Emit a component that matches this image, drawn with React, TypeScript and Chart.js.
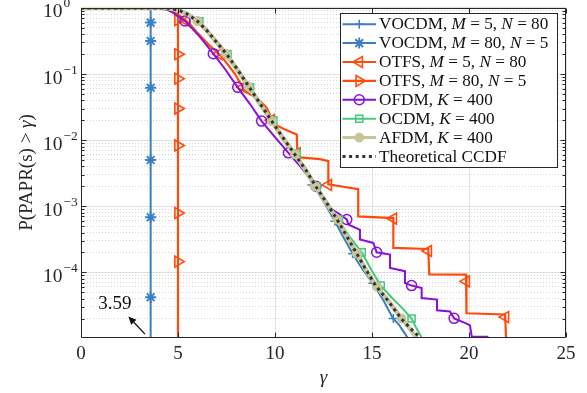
import { useEffect, useRef } from 'react';
import { Chart, registerables } from 'chart.js';

Chart.register(...registerables);

const SERIF = '"Liberation Serif", "Times New Roman", Times, serif';
const AXIS_COLOR = '#262626';

// ---------- axes ----------
const xMin = 0;
const xMax = 25;
const xStep = 5;
const yMin = 1.05e-5;
const yMax = 1;
const yDecadeExps = [0, -1, -2, -3, -4];
const yDecadeLabels = ['0', '\u22121', '\u22122', '\u22123', '\u22124'];

// ---------- texts ----------
const legendTexts = [
  'VOCDM, $M$ = 5, $N$ = 80',
  'VOCDM, $M$ = 80, $N$ = 5',
  'OTFS, $M$ = 5, $N$ = 80',
  'OTFS, $M$ = 80, $N$ = 5',
  'OFDM, $K$ = 400',
  'OCDM, $K$ = 400',
  'AFDM, $K$ = 400',
  'Theoretical CCDF',
];
const xTitle = '\u03b3';
const yTitle = 'P(PAPR(s) > $\u03b3$)';
const annotationText = '3.59';
const annotationAt = [1.75, 3.3e-5];
const arrowFrom = [3.3, 1.16e-5];
const arrowTo = [2.44, 2.15e-5];

// ---------- data ----------
// VOCDM, M = 5, N = 80
const vocdmA_gamma = [0, 3.0, 4.0, 4.5, 5.0, 5.5, 6.0, 6.5, 7.0, 7.5, 8.0, 8.6, 9.2, 9.8, 10.4, 11.0, 11.6, 12.1, 12.5, 13.09, 13.5, 14.02, 14.5, 15.05, 15.6, 16.08, 16.4, 16.6, 16.86];
const vocdmA_p = [1, 1, 0.999, 0.987, 0.93, 0.8, 0.63, 0.45, 0.3, 0.198, 0.124, 0.067, 0.036, 0.0196, 0.0108, 0.0061, 0.0033, 0.0018, 0.00118, 0.00059, 0.00035, 0.000187, 0.000112, 0.000068, 0.000037, 0.00002, 0.000016, 0.000013, 0.00001];
const vocdmA_markGamma = [6.0, 7.47, 8.6, 9.8, 11.0, 11.9, 13.09, 14.0, 15.05, 16.1];
const vocdmA_markP = [0.63, 0.2, 0.067, 0.0196, 0.0061, 0.0021, 0.00059, 0.00019, 0.000068, 0.00002];

// VOCDM, M = 80, N = 5
const vocdmB_gamma = [0, 3.59, 3.59];
const vocdmB_p = [1, 1, 1e-6];
const vocdmB_markGamma = [3.59, 3.59, 3.59, 3.59, 3.59, 3.59];
const vocdmB_markP = [0.6, 0.316, 0.062, 0.005, 0.00068, 0.000042];

// OTFS, M = 5, N = 80
const otfsA_gamma = [0, 4.07, 4.59, 5.1, 5.62, 5.96, 6.65, 7.27, 7.94, 8.45, 9.06, 9.57, 9.74, 9.85, 10.46, 11.12, 11.16, 12.32, 12.75, 12.75, 14.29, 14.29, 16.1, 16.1, 17.9, 17.95, 19.85, 19.87, 21.86, 21.91];
const otfsA_p = [1, 1, 0.93, 0.757, 0.572, 0.433, 0.266, 0.181, 0.1, 0.055, 0.0433, 0.031, 0.024, 0.0181, 0.0147, 0.0122, 0.00552, 0.00514, 0.00479, 0.00214, 0.00181, 0.0007, 0.00066, 0.000234, 0.000225, 0.000093, 0.000092, 0.000024, 0.000023, 0.00001];
const otfsA_markGamma = [5.45, 7.1, 8.35, 9.8, 11.14, 12.75, 16.1, 17.9, 19.86, 21.88];
const otfsA_markP = [0.63, 0.2, 0.063, 0.02, 0.0063, 0.0021, 0.00065, 0.00021, 0.000073, 0.000021];

// OTFS, M = 80, N = 5
const otfsB_gamma = [0, 5.0, 5.0];
const otfsB_p = [1, 1, 1e-6];
const otfsB_markGamma = [5.0, 5.0, 5.0, 5.0, 5.0, 5.0, 5.0];
const otfsB_markP = [0.65, 0.199, 0.085, 0.03, 0.0083, 0.00079, 0.000145];

// OFDM, K = 400
const ofdm_gamma = [0, 3.81, 4.07, 4.48, 4.74, 5.36, 6.13, 6.82, 7.42, 8.08, 8.71, 9.31, 10.0, 10.69, 11.29, 12.11, 12.42, 12.84, 13.35, 13.7, 13.78, 14.38, 14.38, 15.07, 15.24, 15.93, 15.93, 16.7, 16.7, 17.04, 17.56, 17.56, 18.35, 18.35, 19.02, 19.23, 19.85, 20.05, 20.14, 21.0];
const ofdm_p = [1, 1, 0.983, 0.917, 0.85, 0.635, 0.364, 0.203, 0.119, 0.0629, 0.0351, 0.0194, 0.0111, 0.00642, 0.00404, 0.00201, 0.00132, 0.00094, 0.00075, 0.00063, 0.00053, 0.00044, 0.000313, 0.000278, 0.000201, 0.000185, 0.000116, 0.000104, 0.000069, 0.000063, 0.000058, 0.0000408, 0.0000386, 0.0000266, 0.0000256, 0.0000201, 0.0000169, 0.0000157, 0.0000107, 0.0000106];
const ofdm_markGamma = [5.36, 6.82, 8.08, 9.31, 10.69, 12.11, 13.7, 15.24, 17.04, 19.23];
const ofdm_markP = [0.635, 0.203, 0.0629, 0.0194, 0.00642, 0.00201, 0.00063, 0.000201, 0.000063, 0.0000201];

// OCDM, K = 400
const ocdm_gamma = [0, 3.0, 4.0, 4.5, 5.0, 5.5, 6.0, 6.5, 7.0, 7.5, 8.0, 8.6, 9.2, 9.8, 10.4, 11.0, 11.6, 12.1, 12.6, 13.2, 13.8, 14.47, 15.0, 15.45, 16.0, 16.5, 17.04, 17.25, 17.55];
const ocdm_p = [1, 1, 0.999, 0.988, 0.935, 0.81, 0.645, 0.465, 0.315, 0.207, 0.131, 0.072, 0.039, 0.021, 0.0116, 0.0066, 0.0037, 0.00215, 0.00127, 0.00067, 0.00036, 0.0002, 0.000105, 0.000063, 0.000042, 0.00003, 0.00002, 0.000015, 0.0000105];
const ocdm_markGamma = [6.1, 7.55, 8.72, 9.92, 11.12, 12.15, 13.3, 14.47, 15.45, 17.04];
const ocdm_markP = [0.63, 0.2, 0.063, 0.02, 0.0063, 0.002, 0.00063, 0.0002, 0.000063, 0.00002];

// AFDM, K = 400
const afdm_gamma = [0, 3.0, 4.0, 4.5, 5.0, 5.5, 6.0, 6.5, 7.0, 7.46, 8.0, 8.63, 9.2, 9.83, 10.4, 11.03, 11.6, 12.06, 12.6, 13.21, 13.7, 14.21, 14.7, 15.24, 15.9, 16.53, 17.0, 17.3];
const afdm_p = [1, 1, 0.999, 0.987, 0.93, 0.8, 0.635, 0.45, 0.3, 0.203, 0.122, 0.0646, 0.036, 0.0194, 0.0108, 0.0061, 0.0034, 0.002, 0.00117, 0.00063, 0.00035, 0.000195, 0.000107, 0.000061, 0.000035, 0.00002, 0.0000135, 0.0000102];
const afdm_markGamma = [6.0, 7.46, 8.63, 9.83, 11.03, 12.06, 13.21, 14.21, 15.24, 16.53];
const afdm_markP = [0.635, 0.203, 0.0646, 0.0194, 0.0061, 0.002, 0.00063, 0.000195, 0.000061, 0.00002];

// Theoretical CCDF
const theory_gamma = [0, 3.0, 4.0, 4.5, 5.0, 5.5, 6.0, 6.5, 7.0, 7.5, 8.0, 8.6, 9.2, 9.8, 10.4, 11.0, 11.6, 12.1, 12.6, 13.2, 13.7, 14.2, 14.7, 15.2, 15.8, 16.5, 17.0, 17.5];
const theory_p = [1, 1, 0.999, 0.988, 0.93, 0.8, 0.63, 0.45, 0.3, 0.2, 0.125, 0.068, 0.037, 0.02, 0.011, 0.0062, 0.0035, 0.002, 0.0012, 0.00063, 0.00035, 0.000195, 0.000108, 0.000062, 0.000038, 0.00002, 0.000014, 0.0000102];

// ---------- styles ----------
type Style = {
  color: string;
  width: number;
  dash: number[];
  marker: string | null;
  radius: number;
  rotation: number;
  filled: boolean;
  markerWidth: number;
};

const styles: Style[] = [
  { color: '#3a7fc1', width: 2, dash: [], marker: 'cross', radius: 4.5, rotation: 0, filled: false, markerWidth: 1.5 },
  { color: '#3a7fc1', width: 2, dash: [], marker: 'star', radius: 5.5, rotation: 0, filled: false, markerWidth: 1.9 },
  { color: '#ff4a0a', width: 2.2, dash: [], marker: 'triangle', radius: 6.3, rotation: -90, filled: false, markerWidth: 1.6 },
  { color: '#ff4a0a', width: 2.2, dash: [], marker: 'triangle', radius: 6.3, rotation: 90, filled: false, markerWidth: 1.6 },
  { color: '#8a10d6', width: 2, dash: [], marker: 'circle', radius: 5, rotation: 0, filled: false, markerWidth: 1.5 },
  { color: '#45c97b', width: 2, dash: [], marker: 'rect', radius: 5, rotation: 0, filled: false, markerWidth: 1.5 },
  { color: '#c9c59b', width: 4.5, dash: [], marker: 'circle', radius: 4.5, rotation: 0, filled: true, markerWidth: 1 },
  { color: '#333333', width: 3, dash: [3, 3.6], marker: null, radius: 0, rotation: 0, filled: false, markerWidth: 0 },
];

const seriesLines = [
  [vocdmA_gamma, vocdmA_p],
  [vocdmB_gamma, vocdmB_p],
  [otfsA_gamma, otfsA_p],
  [otfsB_gamma, otfsB_p],
  [ofdm_gamma, ofdm_p],
  [ocdm_gamma, ocdm_p],
  [afdm_gamma, afdm_p],
  [theory_gamma, theory_p],
];
const seriesMarks = [
  [vocdmA_markGamma, vocdmA_markP],
  [vocdmB_markGamma, vocdmB_markP],
  [otfsA_markGamma, otfsA_markP],
  [otfsB_markGamma, otfsB_markP],
  [ofdm_markGamma, ofdm_markP],
  [ocdm_markGamma, ocdm_markP],
  [afdm_markGamma, afdm_markP],
  null,
];

function pts(xs: number[], ys: number[]) {
  return xs.map((x, i) => ({ x, y: ys[i] }));
}

function buildDatasets() {
  const ds: any[] = [];
  const n = styles.length;
  for (let i = 0; i < n; i++) {
    const s = styles[i];
    const [gx, gp] = seriesLines[i];
    const baseOrder = (n - 1 - i) * 2;
    ds.push({
      label: legendTexts[i].replace(/\$/g, ''),
      data: pts(gx, gp),
      borderColor: s.color,
      backgroundColor: s.color,
      borderWidth: s.width,
      borderDash: s.dash,
      pointRadius: 0,
      pointHoverRadius: 0,
      tension: 0,
      fill: false,
      order: baseOrder + 1,
    });
    const m = seriesMarks[i];
    if (m && s.marker) {
      ds.push({
        label: legendTexts[i].replace(/\$/g, '') + ' markers',
        data: pts(m[0], m[1]),
        showLine: false,
        pointStyle: s.marker,
        pointRadius: s.radius,
        pointHoverRadius: s.radius,
        pointRotation: s.rotation,
        pointBorderColor: s.color,
        pointBackgroundColor: s.filled ? s.color : 'rgba(0,0,0,0)',
        pointBorderWidth: s.markerWidth,
        borderColor: s.color,
        backgroundColor: s.filled ? s.color : 'rgba(0,0,0,0)',
        order: baseOrder,
      });
    }
  }
  return ds;
}

function buildLogTicks() {
  const t: { value: number; major: boolean }[] = [];
  for (let e = -5; e <= 0; e++) {
    for (let m = 1; m <= 9; m++) {
      const v = m * Math.pow(10, e);
      if (v >= yMin * 0.999999 && v <= yMax * 1.000001) t.push({ value: v, major: m === 1 });
    }
  }
  return t;
}

function fontStr(italic: boolean, size: number) {
  return `${italic ? 'italic ' : ''}${size}px ${SERIF}`;
}

function richWidth(ctx: CanvasRenderingContext2D, text: string, size: number) {
  const parts = text.split('$');
  let w = 0;
  parts.forEach((p, i) => {
    ctx.font = fontStr(i % 2 === 1, size);
    w += ctx.measureText(p).width;
  });
  return w;
}

function drawRich(ctx: CanvasRenderingContext2D, text: string, x: number, y: number, size: number) {
  const parts = text.split('$');
  let cx = x;
  parts.forEach((p, i) => {
    ctx.font = fontStr(i % 2 === 1, size);
    ctx.fillText(p, cx, y);
    cx += ctx.measureText(p).width;
  });
}

function drawMarker(ctx: CanvasRenderingContext2D, s: Style, x: number, y: number) {
  const r = s.radius;
  ctx.save();
  ctx.strokeStyle = s.color;
  ctx.fillStyle = s.color;
  ctx.lineWidth = s.markerWidth;
  ctx.setLineDash([]);
  ctx.beginPath();
  if (s.marker === 'circle') {
    ctx.arc(x, y, r, 0, Math.PI * 2);
  } else if (s.marker === 'rect') {
    const h = Math.SQRT1_2 * r;
    ctx.rect(x - h, y - h, 2 * h, 2 * h);
  } else if (s.marker === 'cross' || s.marker === 'star') {
    ctx.moveTo(x - r, y); ctx.lineTo(x + r, y);
    ctx.moveTo(x, y - r); ctx.lineTo(x, y + r);
    if (s.marker === 'star') {
      const d = r * Math.SQRT1_2;
      ctx.moveTo(x - d, y - d); ctx.lineTo(x + d, y + d);
      ctx.moveTo(x - d, y + d); ctx.lineTo(x + d, y - d);
    }
  } else if (s.marker === 'triangle') {
    let rad = (s.rotation * Math.PI) / 180;
    ctx.moveTo(x + Math.sin(rad) * r, y - Math.cos(rad) * r);
    rad += (2 * Math.PI) / 3;
    ctx.lineTo(x + Math.sin(rad) * r, y - Math.cos(rad) * r);
    rad += (2 * Math.PI) / 3;
    ctx.lineTo(x + Math.sin(rad) * r, y - Math.cos(rad) * r);
    ctx.closePath();
  }
  if (s.filled) ctx.fill();
  ctx.stroke();
  ctx.restore();
}

const framePlugin = {
  id: 'frame',
  afterDraw(chart: any) {
    const { ctx, chartArea: a, scales } = chart;
    const xs = scales.x;
    const ys = scales.y;
    const L = Math.round(a.left) + 0.5;
    const R = Math.round(a.right) - 0.5;
    const T = Math.round(a.top) + 0.5;
    const B = Math.round(a.bottom) + 0.5;
    ctx.save();

    // annotation
    ctx.fillStyle = '#111';
    ctx.strokeStyle = '#111';
    ctx.font = fontStr(false, 19);
    ctx.textAlign = 'center';
    ctx.textBaseline = 'middle';
    ctx.fillText(annotationText, xs.getPixelForValue(annotationAt[0]), ys.getPixelForValue(annotationAt[1]));
    const ax0 = xs.getPixelForValue(arrowFrom[0]);
    const ay0 = ys.getPixelForValue(arrowFrom[1]);
    const ax1 = xs.getPixelForValue(arrowTo[0]);
    const ay1 = ys.getPixelForValue(arrowTo[1]);
    const ang = Math.atan2(ay1 - ay0, ax1 - ax0);
    const hl = 8, hw = 3.6;
    const bx = ax1 - Math.cos(ang) * hl;
    const by = ay1 - Math.sin(ang) * hl;
    ctx.lineWidth = 1.3;
    ctx.beginPath();
    ctx.moveTo(ax0, ay0);
    ctx.lineTo(bx, by);
    ctx.stroke();
    ctx.beginPath();
    ctx.moveTo(ax1, ay1);
    ctx.lineTo(bx + Math.sin(ang) * hw, by - Math.cos(ang) * hw);
    ctx.lineTo(bx - Math.sin(ang) * hw, by + Math.cos(ang) * hw);
    ctx.closePath();
    ctx.fill();

    // frame
    ctx.strokeStyle = AXIS_COLOR;
    ctx.lineWidth = 1;
    ctx.beginPath();
    ctx.rect(L, T, R - L, B - T);
    ctx.stroke();

    // inward ticks
    ctx.beginPath();
    for (let v = xMin; v <= xMax + 1e-9; v += xStep) {
      const px = Math.round(xs.getPixelForValue(v)) + 0.5;
      ctx.moveTo(px, B); ctx.lineTo(px, B - 5);
      ctx.moveTo(px, T); ctx.lineTo(px, T + 5);
    }
    for (const t of ys.ticks) {
      const py = Math.round(ys.getPixelForValue(t.value)) + 0.5;
      const len = t.major ? 5 : 3;
      ctx.moveTo(L, py); ctx.lineTo(L + len, py);
      ctx.moveTo(R, py); ctx.lineTo(R - len, py);
    }
    ctx.stroke();

    // y tick labels (10^k)
    ctx.fillStyle = AXIS_COLOR;
    yDecadeExps.forEach((e, i) => {
      const py = ys.getPixelForValue(Math.pow(10, e));
      ctx.font = fontStr(false, 19.5);
      ctx.textAlign = 'right';
      ctx.textBaseline = 'alphabetic';
      ctx.fillText('10', a.left - 18.5, py + 9.5);
      ctx.font = fontStr(false, 13.5);
      ctx.textAlign = 'left';
      ctx.fillText(yDecadeLabels[i], a.left - 17.5, py - 0.5);
    });

    // y title
    ctx.save();
    ctx.translate(27, (a.top + a.bottom) / 2);
    ctx.rotate(-Math.PI / 2);
    ctx.textAlign = 'left';
    ctx.textBaseline = 'middle';
    const tw = richWidth(ctx, yTitle, 19);
    drawRich(ctx, yTitle, -tw / 2, 0, 19);
    ctx.restore();

    // legend
    const lx = a.right - 226.5;
    const ly = a.top + 5.5;
    const lw = 217;
    const lh = 154;
    ctx.fillStyle = '#ffffff';
    ctx.fillRect(Math.round(lx) + 0.5, Math.round(ly) + 0.5, lw, lh);
    ctx.strokeStyle = AXIS_COLOR;
    ctx.lineWidth = 1;
    ctx.strokeRect(Math.round(lx) + 0.5, Math.round(ly) + 0.5, lw, lh);
    legendTexts.forEach((txt, i) => {
      const s = styles[i];
      const ry = ly + 10.8 + i * 18.9;
      const x0 = lx + 3;
      const x1 = lx + 36.5;
      ctx.save();
      ctx.strokeStyle = s.color;
      ctx.lineWidth = s.width > 3 && s.dash.length === 0 ? 3 : s.width;
      ctx.setLineDash(s.dash);
      ctx.beginPath();
      ctx.moveTo(x0, ry);
      ctx.lineTo(x1, ry);
      ctx.stroke();
      ctx.restore();
      if (s.marker) drawMarker(ctx, s, (x0 + x1) / 2, ry);
      ctx.fillStyle = '#111';
      ctx.textAlign = 'left';
      ctx.textBaseline = 'middle';
      drawRich(ctx, txt, lx + 39.5, ry + 0.5, 17.2);
    });

    ctx.restore();
  },
};

export default function App() {
  const ref = useRef<HTMLCanvasElement>(null);
  useEffect(() => {
    document.body.style.margin = '0';
    const canvas = ref.current;
    if (!canvas) return;
    const chart = new Chart(canvas, {
      type: 'line',
      data: { datasets: buildDatasets() },
      options: {
        responsive: false,
        animation: false,
        devicePixelRatio: 1,
        events: [],
        layout: { padding: { top: 7, right: 21, bottom: 0, left: 0 } },
        plugins: {
          legend: { display: false },
          tooltip: { enabled: false },
        },
        scales: {
          x: {
            type: 'linear',
            min: xMin,
            max: xMax,
            afterFit: (s: any) => {
              s.height = 56;
            },
            ticks: {
              stepSize: xStep,
              color: AXIS_COLOR,
              font: { family: SERIF, size: 19 },
              padding: 6,
              maxRotation: 0,
            },
            grid: { drawTicks: false, color: '#e3e3e3', lineWidth: 1 },
            border: { display: false },
            title: {
              display: true,
              text: xTitle,
              color: AXIS_COLOR,
              font: { family: SERIF, size: 19, style: 'italic' },
              padding: { top: 0, bottom: 4 },
            },
          },
          y: {
            type: 'logarithmic',
            min: yMin,
            max: yMax,
            afterFit: (s: any) => {
              s.width = 81;
            },
            afterBuildTicks: (s: any) => {
              s.ticks = buildLogTicks();
            },
            ticks: { display: false, autoSkip: false },
            grid: {
              drawTicks: false,
              lineWidth: 1,
              color: (c: any) => (c.tick && c.tick.major ? '#e0e0e0' : '#d4d4d4'),
            },
            border: {
              display: false,
              dash: (c: any) => (c.tick && !c.tick.major ? [1, 2] : []),
            },
          },
        },
      },
      plugins: [framePlugin],
    } as any);
    return () => chart.destroy();
  }, []);
  return (
    <div style={{ width: 587, height: 393 }}>
      <canvas ref={ref} width={587} height={393} style={{ display: 'block' }} />
    </div>
  );
}
